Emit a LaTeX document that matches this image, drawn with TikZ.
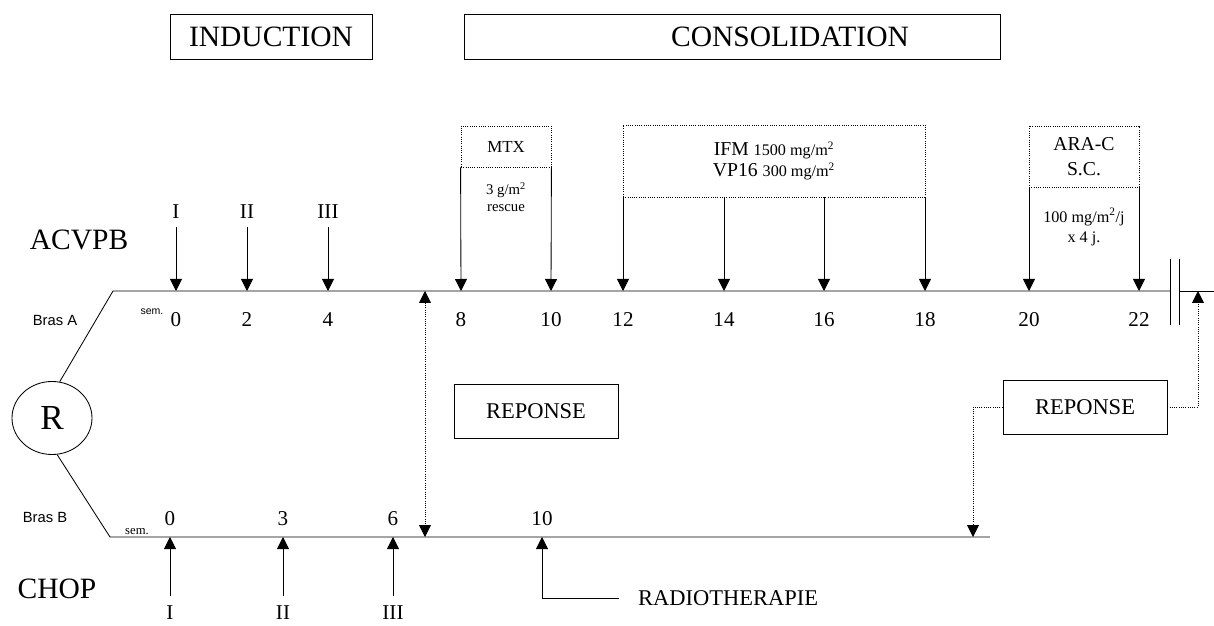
\documentclass[tikz,border=0pt]{standalone}
\usepackage{fontspec}
\setmainfont{Liberation Serif}
\setsansfont{Liberation Sans}
\usepackage{tikz}
\usetikzlibrary{arrows.meta,positioning,calc,shapes.geometric}
\newcommand{\dosesize}{\fontsize{11.5}{14.5}\selectfont}

\begin{document}
\begin{tikzpicture}[x=0.25mm,y=-0.25mm,line width=0.6pt,
  phase/.style={draw,minimum height=11.25mm,inner sep=0pt,
                font=\fontsize{21}{24}\selectfont},
  drug/.style={draw,densely dotted,inner sep=0pt,align=center},
  reponse/.style={draw,minimum width=41mm,minimum height=13.5mm,inner sep=0pt,
                  font=\fontsize{16}{19}\selectfont},
  armname/.style={inner sep=1pt,font=\fontsize{21}{24}\selectfont},
  num/.style={inner sep=1pt,font=\fontsize{15}{18}\selectfont},
  bras/.style={inner sep=1pt,font=\sffamily\fontsize{10.5}{12}\selectfont},
  semlbl/.style={inner sep=1pt,font=\fontsize{9}{11}\selectfont},
  dose/.style={inner sep=1pt,align=center},
  arr/.style={-{Triangle[length=3mm,width=3mm]}},
  darr/.style={densely dotted,-{Triangle[length=3mm,width=3mm]}},
  dbl/.style={densely dotted,{Triangle[length=3mm,width=3mm]}-{Triangle[length=3mm,width=3mm]}},
]
\useasboundingbox (0,0) rectangle (1214,626);

\node[phase,minimum width=50.5mm] (induc) at (271,36.5) {INDUCTION};
\node[phase,minimum width=134mm] (consol) at (732,36.5) {\hspace{29mm}CONSOLIDATION};

\node[armname] (acvpb) at (79,240) {ACVPB};
\node[armname] (chop) at (57,589) {CHOP};
\node[draw,ellipse,minimum width=20mm,minimum height=18.25mm,inner sep=0pt,
      font=\fontsize{25}{30}\selectfont] (r) at (52,418) {R};
\node[bras] (brasA) at (55,320) {Bras A};
\node[bras] (brasB) at (45,517) {Bras B};
\node[semlbl,font=\sffamily\fontsize{7.5}{9}\selectfont] (semA) at (152,312) {sem.};
\node[semlbl] (semB) at (137,532) {sem.};

\coordinate (astart) at (113,291);
\coordinate (abrk) at (1170,291);
\coordinate (abrk2) at (1179,291);
\coordinate (aend) at (1214,291);
\coordinate (bstart) at (110,537);
\coordinate (bend) at (990,537);
\draw (r.78) -- (astart) -- (abrk);
\draw (abrk2) -- (aend);
\draw ([yshift=8mm]abrk) -- ([yshift=-8.5mm]abrk);
\draw ([yshift=8mm]abrk2) -- ([yshift=-8.5mm]abrk2);
\draw (r.-82) -- (bstart) -- (bend);

\foreach \w/\x in {0/176,2/247,4/328,8/461,10/551,12/623,14/724,16/824,18/925,20/1029,22/1139}{
  \coordinate (ta\w) at (\x,291);
  \node[num] (na\w) at (\x,320) {\w};
}
\foreach \r/\w/\x in {I/0/176,II/2/247,III/4/328}{
  \node[num] (ia\w) at (\x,212) {\r};
  \draw[arr] ([yshift=-1.5mm]ia\w.south) -- (ta\w);
}

\node[drug,minimum width=22.5mm,minimum height=10.25mm,
      font=\fontsize{12}{14}\selectfont] (mtx) at (506,146.5) {MTX};
\node[dose,font=\fontsize{10.5}{12}\selectfont] (mtxdose) at (506,197)
  {3 g/m\textsuperscript{2}\\rescue};
\draw[arr] (mtx.south west) -- (ta8);
\draw[arr] (mtx.south east) -- (ta10);

\node[drug,minimum width=75.5mm,minimum height=18mm,
      font=\fontsize{14}{14.5}\selectfont] (ifm) at (774,161)
  {IFM {\dosesize 1500 mg/m\textsuperscript{2}}\\VP16 {\dosesize 300 mg/m\textsuperscript{2}}};
\foreach \w in {12,14,16,18}{
  \draw[arr] (ta\w |- ifm.south) -- (ta\w);
}

\node[drug,minimum width=27.5mm,minimum height=15.25mm,
      font=\fontsize{14}{17.8}\selectfont] (arac) at (1084,156.5) {ARA-C\\S.C.};
\node[dose,font=\fontsize{11.5}{14.2}\selectfont] (aracdose) at (1084,227)
  {100 mg/m\textsuperscript{2}/j\\x 4 j.};
\draw[arr] (ta20 |- arac.south) -- (ta20);
\draw[arr] (ta22 |- arac.south) -- (ta22);

\foreach \w/\x in {0/170,3/283,6/393,10/542}{
  \coordinate (tb\w) at (\x,537);
  \node[num] (nb\w) at (\x,519) {\w};
}
\foreach \r/\w/\x in {I/0/170,II/3/283,III/6/393}{
  \node[num] (ib\w) at (\x,613) {\r};
  \draw[arr] ([yshift=2mm]ib\w.north) -- (tb\w);
}
\node[anchor=west,font=\fontsize{16}{19}\selectfont] (radio) at (633,598) {RADIOTHERAPIE};
\draw[arr] ([xshift=-3.5mm]radio.west) -| (tb10);

\coordinate (respA) at (425,291);
\coordinate (respB) at (425,537);
\draw[dbl] (respA) -- (respB);
\node[reponse] (rep1) at (536,411) {REPONSE};

\node[reponse] (rep2) at (1085,407) {REPONSE};
\coordinate (rb20) at (973,537);
\coordinate (ra23) at (1198,291);
\draw[darr] (rep2.west) -| (rb20);
\draw[darr] (rep2.east) -| (ra23);
\end{tikzpicture}
\end{document}
